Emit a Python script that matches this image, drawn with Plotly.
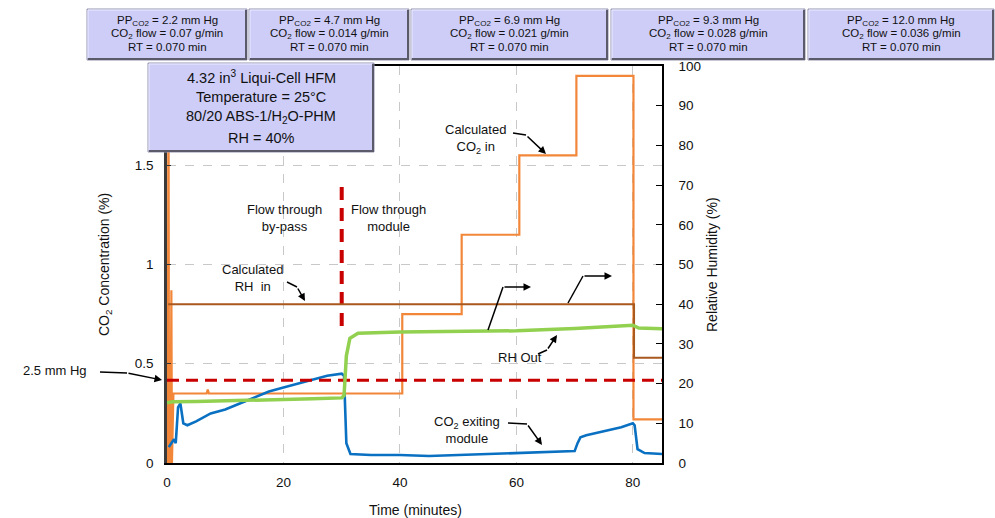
import plotly.graph_objects as go

# ---------------- data ----------------
# CO2 exiting module (%), left axis
t_co2_out = [0.3, 0.8, 1.2, 1.5, 1.9, 2.3, 2.8, 3.5, 5, 7.5, 10, 12.5, 15, 17.5, 20, 22.5, 25, 27.5, 30,
             30.4, 30.8, 31.5, 35, 40, 45, 50, 55, 60, 65, 70, 70.5, 71, 72, 75, 78, 80, 80.3, 80.8, 82, 85]
co2_out = [0.08, 0.10, 0.12, 0.10, 0.28, 0.30, 0.20, 0.19, 0.21, 0.25, 0.27, 0.30, 0.33, 0.36, 0.38, 0.40, 0.42, 0.44, 0.45,
           0.44, 0.10, 0.045, 0.04, 0.04, 0.035, 0.04, 0.045, 0.05, 0.055, 0.06, 0.10, 0.13, 0.14, 0.16, 0.18, 0.20, 0.19, 0.07, 0.05, 0.045]

# Calculated CO2 in (%), left axis
t_co2_in = [0.15, 0.25, 0.35, 0.6, 0.75, 0.85, 1.1, 6.8, 7.0, 7.2, 40.4, 40.4, 50.6, 50.6, 60.5, 60.5, 70.3, 70.3, 80.1, 80.1, 85]
co2_in = [0.0, 2.1, 0.0, 0.0, 0.87, 0.0, 0.35, 0.35, 0.37, 0.35, 0.35, 0.75, 0.75, 1.15, 1.15, 1.55, 1.55, 1.95, 1.95, 0.22, 0.22]

# Calculated RH in (%), right axis
t_rh_in = [0.2, 80.2, 80.2, 85]
rh_in = [40, 40, 26.5, 26.5]

# RH out (%), right axis
t_rh_out = [0, 1, 5, 10, 15, 20, 25, 30, 30.4, 30.8, 31.4, 32.8, 40, 50, 60, 70, 80, 81, 85]
rh_out = [15.2, 15.4, 15.5, 15.6, 15.8, 16.0, 16.2, 16.4, 17.0, 27.0, 31.4, 32.7, 33.0, 33.1, 33.3, 33.9, 34.7, 34.0, 33.8]

# 2.5 mm Hg reference (%), left axis
t_ref = [0, 85]
ref_level = [0.417, 0.417]

# switch from by-pass to module
t_switch = [30, 30]
switch_span = [0.69, 1.40]

x_ticks = [0, 20, 40, 60, 80]
y_ticks = [0, 0.5, 1, 1.5]
y2_ticks = [0, 10, 20, 30, 40, 50, 60, 70, 80, 90, 100]

box_pp = ["2.2", "4.7", "6.9", "9.3", "12.0"]
box_flow = ["0.07", "0.014", "0.021", "0.028", "0.036"]
box_rt = ["0.070"] * 5

# ---------------- colours ----------------
BLUE = "#0A70C2"
ORANGE = "#F2873A"
BROWN = "#A9581E"
GREEN = "#92D050"
RED = "#C80000"
FONT = "Liberation Sans, Arial, sans-serif"

fig = go.Figure()
fig.add_trace(go.Scatter(x=t_co2_in, y=co2_in, mode="lines", line=dict(color=ORANGE, width=2.2), yaxis="y"))
fig.add_trace(go.Scatter(x=t_rh_in, y=rh_in, mode="lines", line=dict(color=BROWN, width=2), yaxis="y2"))
fig.add_trace(go.Scatter(x=t_rh_out, y=rh_out, mode="lines", line=dict(color=GREEN, width=3.5), yaxis="y2"))
fig.add_trace(go.Scatter(x=t_co2_out, y=co2_out, mode="lines", line=dict(color=BLUE, width=2.6), yaxis="y"))
fig.add_trace(go.Scatter(x=t_ref, y=ref_level, mode="lines", line=dict(color=RED, width=3, dash="12px,7px"), yaxis="y"))
fig.add_trace(go.Scatter(x=t_switch, y=switch_span, mode="lines", line=dict(color=RED, width=4, dash="13px,8px"), yaxis="y"))

L, R, T, B = 167, 662, 66, 463
W, H = 995, 518


def px(x):
    return (x - L) / (R - L)


def py(y):
    return (B - y) / (B - T)


shapes = []
annotations = []


def text(x, y, s, size=13, xanchor="center", angle=0):
    annotations.append(dict(x=px(x), y=py(y), xref="paper", yref="paper", text=s, showarrow=False,
                            font=dict(family=FONT, size=size, color="#111"), xanchor=xanchor, yanchor="middle",
                            align="center", textangle=angle))


def arrow(points):
    if len(points) > 2:
        d = "M " + " L ".join(f"{px(a)},{py(b)}" for a, b in points[:-1])
        shapes.append(dict(type="path", path=d, xref="paper", yref="paper", line=dict(color="black", width=1.5)))
    (x0, y0), (x1, y1) = points[-2], points[-1]
    annotations.append(dict(x=px(x1), y=py(y1), xref="paper", yref="paper", ax=x0 - x1, ay=y0 - y1, text="",
                            showarrow=True, arrowhead=2, arrowsize=1, arrowwidth=1.5, arrowcolor="black",
                            standoff=0, startstandoff=0))


def box(x0, y0, x1, y1):
    shapes.append(dict(type="rect", xref="paper", yref="paper", x0=px(x0), x1=px(x1), y0=py(y1), y1=py(y0),
                       fillcolor="#CDCDF8", line=dict(color="#9494AC", width=1), layer="above"))
    shapes.append(dict(type="path", xref="paper", yref="paper",
                       path=f"M {px(x0+1)},{py(y1-1)} L {px(x1-1)},{py(y1-1)} L {px(x1-1)},{py(y0+1)}",
                       line=dict(color="#5A5A6A", width=2), layer="above"))
    shapes.append(dict(type="path", xref="paper", yref="paper",
                       path=f"M {px(x0+1)},{py(y1-2)} L {px(x0+1)},{py(y0+1)} L {px(x1-2)},{py(y0+1)}",
                       line=dict(color="#ECECFF", width=1), layer="above"))


# top condition boxes
box_edges = [(87, 247), (249, 409), (411, 608), (611, 805), (808, 994)]
for (a, b), pp, fl, rt in zip(box_edges, box_pp, box_flow, box_rt):
    box(a, 9, b, 60)
    cx = (a + b) / 2
    text(cx, 21, f"PP<sub>CO2</sub> = {pp} mm Hg", size=11.5)
    text(cx, 34, f"CO<sub>2</sub> flow = {fl} g/min", size=11.5)
    text(cx, 47, f"RT = {rt} min", size=11.5)

# info box
box(148, 63, 374, 152)
text(261, 77, "4.32 in<sup>3</sup> Liqui-Cell HFM", size=14.5)
text(261, 97, "Temperature = 25°C", size=14.5)
text(261, 117, "80/20 ABS-1/H<sub>2</sub>O-PHM", size=14.5)
text(261, 138, "RH = 40%", size=14.5)

# plot annotations
text(284, 218, "Flow through<br>by-pass", size=13)
text(388, 218, "Flow through<br>module", size=13)
text(252, 278, "Calculated<br>RH  in", size=13)
arrow([(287, 282), (297, 287), (305, 301)])
text(475, 139, "Calculated<br>CO<sub>2</sub> in", size=13)
arrow([(513, 133), (526, 135), (546, 154)])
text(520, 357, "RH Out", size=13)
arrow([(538, 354), (547, 350), (557, 335)])
text(467, 430, "CO<sub>2</sub> exiting<br>module", size=13)
arrow([(508, 423), (527, 424), (542, 445)])
arrow([(488, 330), (503, 287), (531, 287)])
arrow([(568, 303), (583, 276), (612, 276)])
text(55, 370, "2.5 mm Hg", size=13)
arrow([(100, 372), (127, 373), (162, 380)])

# axis titles
text(415, 510, "Time (minutes)", size=14)
text(105, 265, "CO<sub>2</sub> Concentration (%)", size=14, angle=-90)
text(712, 265, "Relative Humidity (%)", size=14, angle=-90)

fig.update_layout(
    width=W, height=H,
    margin=dict(l=L, r=W - R, t=T, b=H - B, pad=0, autoexpand=False),
    paper_bgcolor="white", plot_bgcolor="white",
    showlegend=False,
    font=dict(family=FONT, size=13, color="#111"),
    shapes=shapes, annotations=annotations,
    xaxis=dict(range=[0, 85], tickvals=x_ticks, showgrid=True, gridcolor="#C8C8C8", griddash="dash",
               gridwidth=1, zeroline=False, showline=True, linecolor="black", linewidth=1.5, mirror=True,
               ticks="", tickfont=dict(size=13.5), ticklabelstandoff=6, automargin=False),
    yaxis=dict(range=[0, 2], tickvals=y_ticks, ticktext=["0", "0.5", "1", "1.5"], showgrid=True,
               gridcolor="#C8C8C8", griddash="dash", gridwidth=1, zeroline=False, showline=True,
               linecolor="#3A3A3A", linewidth=2.5, ticks="inside", ticklen=4, tickcolor="#333",
               tickfont=dict(size=13.5), ticklabelstandoff=8, automargin=False),
    yaxis2=dict(range=[0, 100], tickvals=y2_ticks, overlaying="y", side="right", showgrid=False, zeroline=False,
                showline=True, linecolor="black", linewidth=1.5, ticks="inside", ticklen=6, tickcolor="black",
                tickfont=dict(size=13.5), ticklabelstandoff=12, automargin=False),
)

fig.write_html("out.html")
